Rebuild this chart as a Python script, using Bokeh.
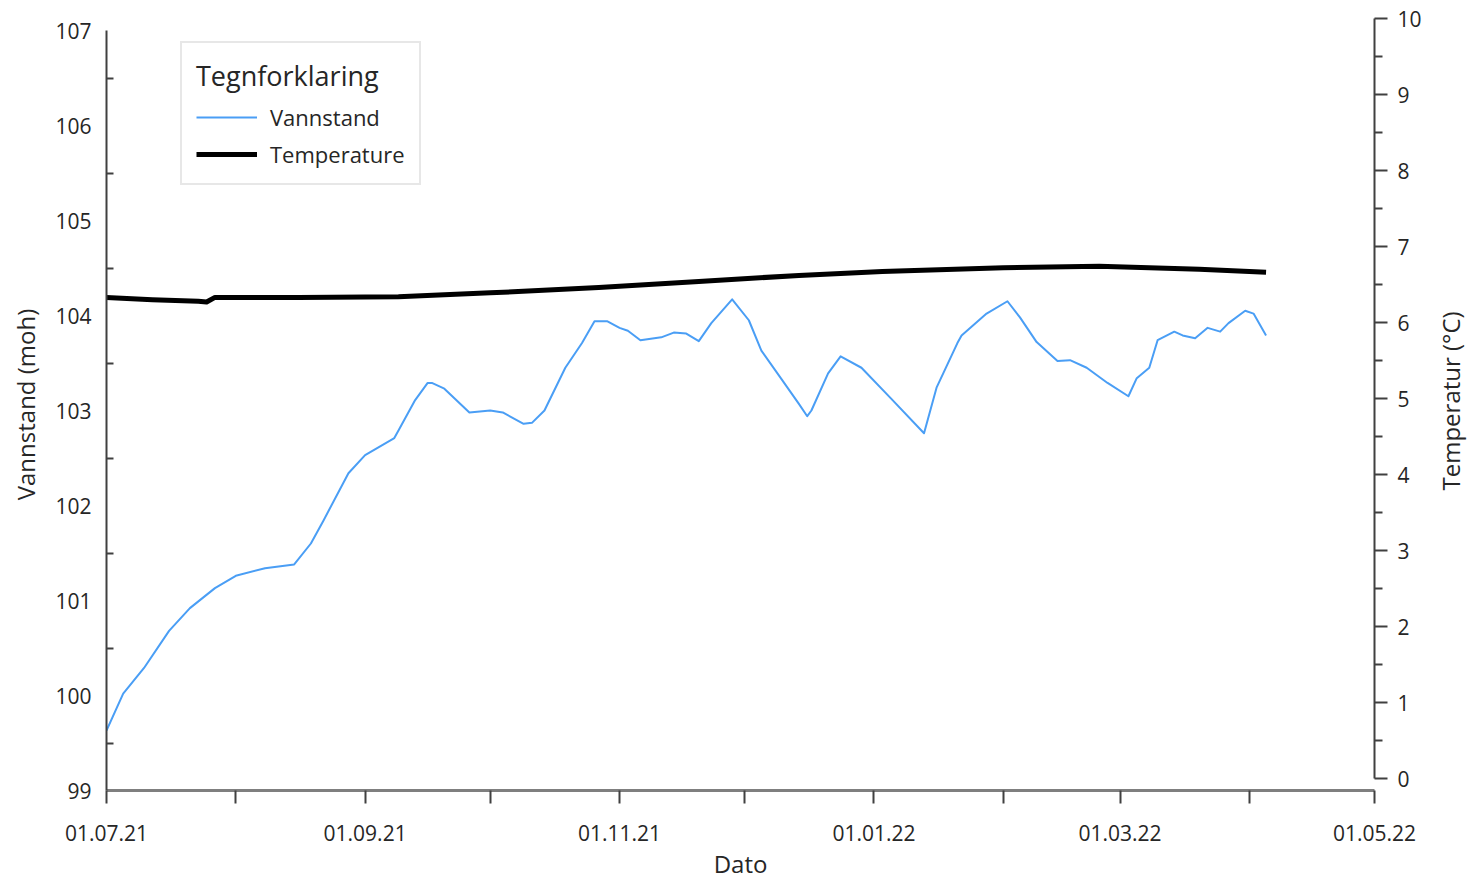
import math
import pandas as pd
from bokeh.plotting import figure
from bokeh.layouts import row
from bokeh.models import (Range1d, LinearAxis, FixedTicker, Legend, LegendItem,
                          CustomJSTickFormatter, Label)
from bokeh.embed import file_html
from bokeh.resources import INLINE

# ---------------- data ----------------
level_dates = ["2021-07-01", "2021-07-05", "2021-07-10", "2021-07-16", "2021-07-21", "2021-07-27",
               "2021-08-01", "2021-08-08", "2021-08-15", "2021-08-19", "2021-08-22", "2021-08-28",
               "2021-09-01", "2021-09-08", "2021-09-09", "2021-09-13", "2021-09-16", "2021-09-17",
               "2021-09-20", "2021-09-26", "2021-10-01", "2021-10-04", "2021-10-09", "2021-10-11",
               "2021-10-14", "2021-10-19", "2021-10-23", "2021-10-26", "2021-10-29", "2021-11-01",
               "2021-11-03", "2021-11-06", "2021-11-11", "2021-11-14", "2021-11-17", "2021-11-20",
               "2021-11-23", "2021-11-28", "2021-12-02", "2021-12-05", "2021-12-10", "2021-12-14",
               "2021-12-16", "2021-12-17", "2021-12-21", "2021-12-24", "2021-12-29", "2022-01-05",
               "2022-01-13", "2022-01-16", "2022-01-21", "2022-01-22", "2022-01-28", "2022-02-02",
               "2022-02-05", "2022-02-09", "2022-02-14", "2022-02-17", "2022-02-21", "2022-02-26",
               "2022-03-03", "2022-03-05", "2022-03-08", "2022-03-10", "2022-03-14", "2022-03-16",
               "2022-03-19", "2022-03-22", "2022-03-25", "2022-03-27", "2022-03-31", "2022-04-02",
               "2022-04-05"]
level_values = [99.63, 100.02, 100.29, 100.68, 100.92, 101.13,
                101.26, 101.34, 101.38, 101.60, 101.84, 102.34,
                102.53, 102.71, 102.79, 103.11, 103.29, 103.29,
                103.23, 102.98, 103.00, 102.98, 102.86, 102.87,
                103.00, 103.45, 103.71, 103.94, 103.94, 103.87,
                103.84, 103.74, 103.77, 103.82, 103.81, 103.73,
                103.92, 104.17, 103.95, 103.63, 103.32, 103.07,
                102.94, 103.00, 103.39, 103.57, 103.45, 103.13,
                102.76, 103.24, 103.71, 103.79, 104.02, 104.15,
                103.98, 103.72, 103.52, 103.53, 103.45, 103.29,
                103.15, 103.34, 103.45, 103.74, 103.83, 103.79,
                103.76, 103.87, 103.83, 103.92, 104.05, 104.02,
                103.79]

temp_dates = ["2021-07-01", "2021-07-12", "2021-07-23", "2021-07-25", "2021-07-27", "2021-08-16",
              "2021-09-09", "2021-10-01", "2021-10-27", "2021-11-20", "2021-12-14", "2022-01-03",
              "2022-02-01", "2022-02-24", "2022-03-20", "2022-04-05"]
temp_values = [6.33, 6.30, 6.28, 6.27, 6.33, 6.33,
               6.34, 6.39, 6.46, 6.54, 6.62, 6.67,
               6.72, 6.74, 6.70, 6.66]

month_ticks = ["2021-07-01", "2021-08-01", "2021-09-01", "2021-10-01", "2021-11-01", "2021-12-01",
               "2022-01-01", "2022-02-01", "2022-03-01", "2022-04-01", "2022-05-01"]
level_ticks = [99, 100, 101, 102, 103, 104, 105, 106, 107]
temp_ticks = [0, 1, 2, 3, 4, 5, 6, 7, 8, 9, 10]

x_start, x_end = "2021-07-01", "2022-05-01"

# ---------------- helpers ----------------
def ms(s):
    return pd.Timestamp(s).value / 1e6

FONT = "Open Sans"
TXT = "#262626"

lx = pd.to_datetime(level_dates)
tx = pd.to_datetime(temp_dates)

p = figure(width=1430, height=882, x_axis_type="datetime", output_backend="svg",
           toolbar_location=None, title=None,
           x_range=Range1d(ms(x_start), ms(x_end)),
           y_range=Range1d(99, 107 + 12 / 95),
           min_border_left=106, min_border_right=56, min_border_top=18, min_border_bottom=92)
p.extra_y_ranges = {"temp": Range1d(-12 / 76, 10)}
p.grid.visible = False
p.outline_line_color = None
p.background_fill_color = "white"
p.border_fill_color = "white"

r_level = p.line(lx, level_values, line_color="#4A9EF5", line_width=2, line_join="round")
r_temp = p.line(tx, temp_values, line_color="black", line_width=5, y_range_name="temp",
                line_join="round")

# x axis
xa = p.xaxis[0]
xa.ticker = FixedTicker(ticks=[ms(t) for t in month_ticks], minor_ticks=[])
xa.formatter = CustomJSTickFormatter(code="""
const d = new Date(tick);
const m = d.getUTCMonth() + 1;
if (m % 2 == 0) { return ''; }
const dd = String(d.getUTCDate()).padStart(2, '0');
const mm = String(m).padStart(2, '0');
const yy = String(d.getUTCFullYear() % 100).padStart(2, '0');
return dd + '.' + mm + '.' + yy;
""")
xa.axis_label = "Dato"
xa.axis_line_color = "#7f7f7f"
xa.axis_line_width = 3
xa.major_tick_out = 13
xa.major_tick_in = 0
xa.major_tick_line_color = "#404040"
xa.major_tick_line_width = 2
xa.minor_tick_line_color = None
xa.major_label_standoff = 21
xa.axis_label_standoff = 3

# left axis
ya = p.yaxis[0]
ya.ticker = FixedTicker(ticks=level_ticks, minor_ticks=[v + 0.5 for v in level_ticks[:-1]])
ya.bounds = (99, 107)
ya.axis_label = "Vannstand (moh)"
ya.axis_line_color = "#404040"
ya.axis_line_width = 2
ya.major_tick_in = 0
ya.major_tick_out = 0
ya.minor_tick_in = 7
ya.minor_tick_out = 0
ya.minor_tick_line_color = "#404040"
ya.minor_tick_line_width = 2
ya.major_label_standoff = 15
ya.axis_label_standoff = 10

# right axis (ticks and numbers)
ra = LinearAxis(y_range_name="temp")
ra.ticker = FixedTicker(ticks=temp_ticks, minor_ticks=[v + 0.5 for v in temp_ticks[:-1]])
ra.bounds = (0, 10)
ra.axis_line_color = "#404040"
ra.axis_line_width = 2
ra.major_tick_in = 0
ra.major_tick_out = 13
ra.minor_tick_in = 0
ra.minor_tick_out = 8
ra.major_tick_line_color = "#404040"
ra.minor_tick_line_color = "#404040"
ra.major_tick_line_width = 2
ra.minor_tick_line_width = 2
ra.major_label_standoff = 10
p.add_layout(ra, "right")

for ax in [xa, ya, ra]:
    ax.major_label_text_font = FONT
    ax.major_label_text_font_size = "21px"
    ax.major_label_text_color = TXT
    ax.axis_label_text_font = FONT
    ax.axis_label_text_font_size = "24px"
    ax.axis_label_text_font_style = "normal"
    ax.axis_label_text_color = TXT

legend = Legend(items=[LegendItem(label="Vannstand", renderers=[r_level]),
                       LegendItem(label="Temperature", renderers=[r_temp])],
                title="Tegnforklaring", location=(74, 605))
legend.title_text_font = FONT
legend.title_text_font_size = "27px"
legend.title_text_font_style = "normal"
legend.title_text_color = TXT
legend.title_standoff = 8
legend.label_text_font = FONT
legend.label_text_font_size = "22px"
legend.label_text_color = TXT
legend.label_standoff = 13
legend.glyph_width = 61
legend.glyph_height = 20
legend.label_height = 20
legend.spacing = 7
legend.padding = 14
legend.margin = 0
legend.border_line_color = "#d0d0d0"
legend.border_line_width = 2
legend.background_fill_color = "white"
legend.background_fill_alpha = 1
p.add_layout(legend)

# narrow strip on the right holding the right-axis title, reading bottom-to-top
side = figure(width=46, height=882, output_backend="svg", toolbar_location=None, title=None,
              x_range=Range1d(0, 1), y_range=Range1d(0, 1),
              min_border_left=0, min_border_right=0, min_border_top=0, min_border_bottom=0)
side.axis.visible = False
side.grid.visible = False
side.outline_line_color = None
side.background_fill_color = "white"
side.border_fill_color = "white"
side.add_layout(Label(x=20, y=300, x_units="screen", y_units="screen", text="Temperatur (°C)",
                      angle=math.pi / 2, text_align="left", text_baseline="middle",
                      text_font=FONT, text_font_size="24px", text_color=TXT))

layout = row(p, side, spacing=0)
open("out.html", "w").write(file_html(layout, INLINE))
